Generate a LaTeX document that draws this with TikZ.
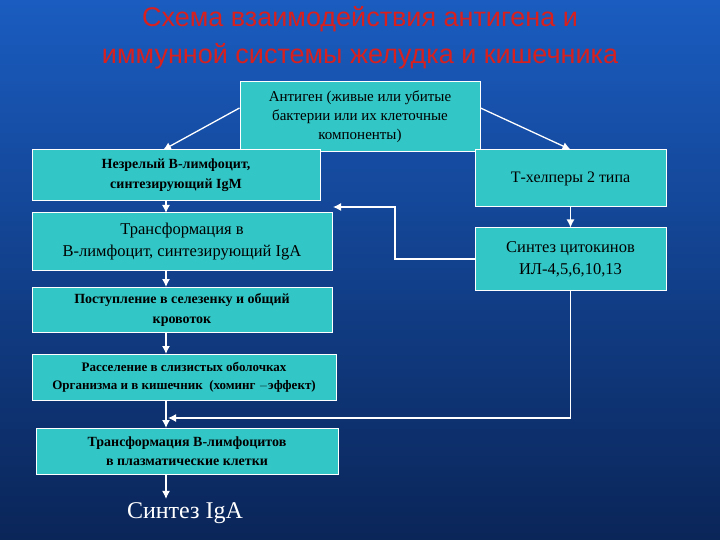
\documentclass[tikz,border=0pt]{standalone}
\usetikzlibrary{arrows.meta}
\usepackage{fontspec}
\setmainfont{Liberation Serif}
\newfontfamily\arialf{Liberation Sans}
\definecolor{bgtop}{HTML}{1A5CC0}
\definecolor{bgbot}{HTML}{0A2558}
\definecolor{boxfill}{HTML}{33C6C6}
\definecolor{titlered}{HTML}{D8201E}
\begin{document}
\begin{tikzpicture}[x=1pt,y=-1pt,
  box/.style={draw=white,line width=1pt,fill=boxfill,inner sep=0pt,align=center,text=black},
  conn/.style={draw=white,line width=1.3pt,-{Latex[length=8pt,width=8pt]}}]
\shade[top color=bgtop,bottom color=bgbot] (0,0) rectangle (720,540);
\useasboundingbox (0,0) rectangle (720,540);
\node[text=titlered,font=\arialf\fontsize{27}{37}\selectfont,align=center] (title) at (360,38) {Схема взаимодействия антигена и\\иммунной системы желудка и кишечника};
\node[box,minimum width=240,minimum height=70,font=\fontsize{15}{19}\selectfont] (ag) at (360,117) {Антиген (живые или убитые\\бактерии или их клеточные\\компоненты)};
\node[box,minimum width=288,minimum height=51,font=\bfseries\fontsize{14}{20}\selectfont] (b1) at (176,175.5) {Незрелый В-лимфоцит,\\синтезирующий IgM};
\node[box,minimum width=191,minimum height=57,font=\fontsize{16}{20}\selectfont] (th) at (570.5,178.5) {Т-хелперы 2 типа};
\node[box,minimum width=300,minimum height=57,font=\fontsize{16.5}{22}\selectfont] (b2) at (182,241.5) {Трансформация в\\В-лимфоцит, синтезирующий IgA};
\node[box,minimum width=191,minimum height=62,font=\fontsize{16.5}{22}\selectfont] (cy) at (570.5,259) {Синтез цитокинов\\ИЛ-4,5,6,10,13};
\node[box,minimum width=300,minimum height=45,font=\bfseries\fontsize{14}{20}\selectfont] (b3) at (182,309.5) {Поступление в селезенку и общий\\кровоток};
\node[box,minimum width=304,minimum height=46,font=\bfseries\fontsize{13}{18}\selectfont] (b4) at (184,377) {Расселение в слизистых оболочках\\Организма и в кишечник\ \ (хоминг $-$эффект)};
\node[box,minimum width=302,minimum height=46,font=\bfseries\fontsize{14}{19}\selectfont] (b5) at (187,451) {Трансформация В-лимфоцитов\\в плазматические клетки};
\node[text=white,font=\fontsize{24}{26}\selectfont] (syn) at (185,513) {Синтез IgA};
\draw[conn] (ag.west |- 0,108) -- (163,150);
\draw[conn] (ag.east |- 0,108) -- (th.north);
\draw[conn] (th) -- (cy);
\draw[conn] (166,201) -- (166,213);
\draw[conn] (166,270) -- (166,287);
\draw[conn] (166,332) -- (166,354);
\draw[conn] (166,400) -- (166,428);
\draw[conn] (166,474) -- (syn.north -| 166,0);
\coordinate (c1) at (395,259);
\draw[conn] (cy.west) -- (c1) |- (333,207);
\draw[conn] (cy.south) |- (168,418);
\end{tikzpicture}
\end{document}
